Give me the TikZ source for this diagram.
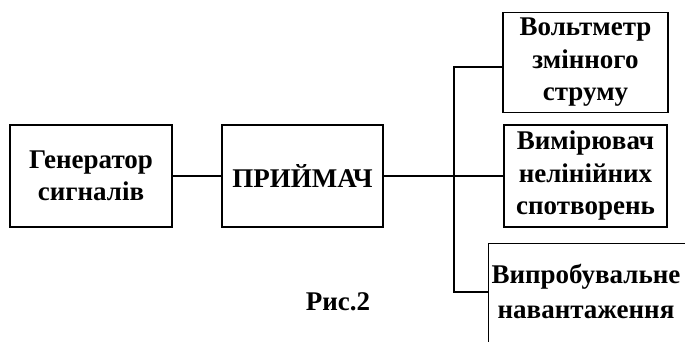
\documentclass[tikz,border=0pt]{standalone}
\usepackage{fontspec}
\setmainfont{Liberation Serif}
\begin{document}
\begin{tikzpicture}[x=1pt,y=-1pt,
  box/.style={draw,line width=1.3pt,inner sep=0pt,align=center,font=\fontsize{27}{32.5}\selectfont\bfseries},
  lbl/.style={inner sep=0pt,align=center,font=\fontsize{27}{35}\selectfont\bfseries},
  wire/.style={line width=1.3pt}]
\useasboundingbox (0,0) rectangle (685,341);
\clip (0,0) rectangle (685,341);
\node[box,minimum width=162,minimum height=102] (gen) at (91,176) {Генератор\\сигналів};
\node[box,minimum width=161,minimum height=102] (rx) at (302.5,176) {ПРИЙМАЧ};
\node[box,minimum width=165,minimum height=100] (volt) at (585.5,62.5) {Вольтметр\\змінного\\струму};
\node[box,minimum width=163,minimum height=102] (dist) at (585.5,176) {Вимірювач\\нелінійних\\спотворень};
\node[draw,line width=1.3pt,minimum width=210,minimum height=130,anchor=north west,inner sep=0pt] (load) at (488,242.5) {};
\node[lbl] (loadtxt) at (586,291) {Випробувальне\\навантаження};
\node[lbl] (cap) at (338,302) {Рис.2};
\coordinate (jt) at (454,67);
\coordinate (jm) at (454,176);
\coordinate (jb) at (454,292);
\draw[wire] (gen.east) -- (rx.west);
\draw[wire] (rx.east) -- (jm);
\draw[wire] (volt.west |- jt) -- (jt) -- (jb) -- (load.north west |- jb);
\draw[wire] (jm) -- (dist.west);
\end{tikzpicture}
\end{document}
